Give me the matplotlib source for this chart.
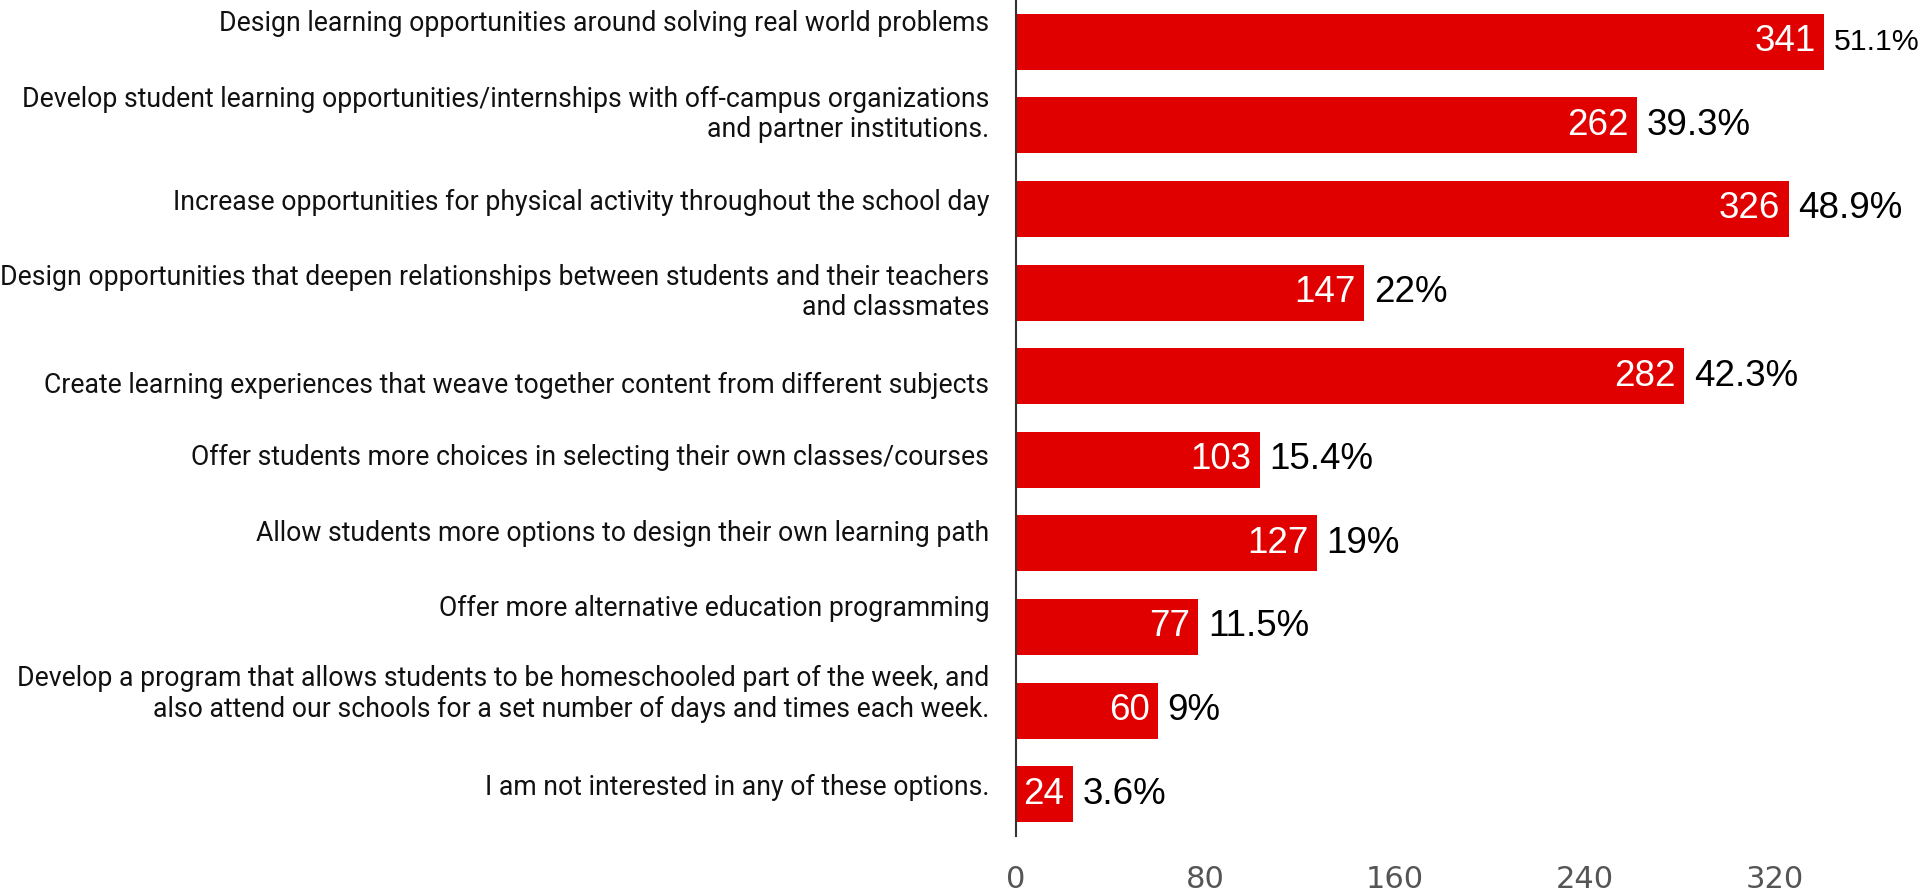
import matplotlib
matplotlib.use("Agg")
import matplotlib.pyplot as plt

# survey options (top to bottom) and responses
options = [
    "Design learning opportunities around solving real world problems",
    "Develop student learning opportunities/internships with off-campus organizations\nand partner institutions.",
    "Increase opportunities for physical activity throughout the school day",
    "Design opportunities that deepen relationships between students and their teachers\nand classmates",
    "Create learning experiences that weave together content from different subjects",
    "Offer students more choices in selecting their own classes/courses",
    "Allow students more options to design their own learning path",
    "Offer more alternative education programming",
    "Develop a program that allows students to be homeschooled part of the week, and\nalso attend our schools for a set number of days and times each week.",
    "I am not interested in any of these options.",
]
counts = [341, 262, 326, 147, 282, 103, 127, 77, 60, 24]
percents = ["51.1%", "39.3%", "48.9%", "22%", "42.3%", "15.4%", "19%", "11.5%", "9%", "3.6%"]
x_ticks = [0, 80, 160, 240, 320]

# the labels in the original don't sit exactly on the bar centres (points, + is up)
label_nudge = [13.5, 8, 5, 0, -6.5, 2, 7, 13.5, 12, 5]

BAR_COLOR = "#e10000"
VALUE_FONT = ["Liberation Sans", "DejaVu Sans"]
LABEL_FONT = ["Roboto", "DejaVu Sans"]
TICK_FONT = ["Liberation Sans Narrow", "DejaVu Sans"]

fig = plt.figure(figsize=(19.2, 8.92), dpi=100)
ax = fig.add_axes([0.529, 0.0628, 0.471, 0.9372])

ypos = list(range(len(options)))
ax.barh(ypos, counts, height=0.67, color=BAR_COLOR, edgecolor="none")

ax.set_xlim(0, 381.4)
ax.set_ylim(len(options) - 0.5, -0.5)

# count inside the bar, percentage just after it
pct_texts = []
for y, c, p in zip(ypos, counts, percents):
    ax.annotate(str(c), xy=(c, y), xytext=(-6, 0), textcoords="offset points",
                ha="right", va="center", color="white", fontsize=26.5,
                family=VALUE_FONT)
    t = ax.annotate(p, xy=(c, y), xytext=(7, 0), textcoords="offset points",
                    ha="left", va="center", color="black", fontsize=26.5,
                    family=VALUE_FONT, annotation_clip=False)
    pct_texts.append(t)

# category labels, right aligned left of the axis
for y, text, dy in zip(ypos, options, label_nudge):
    ax.annotate(text, xy=(0, y), xycoords=("axes fraction", "data"),
                xytext=(-19, dy), textcoords="offset points",
                ha="right", va="center", multialignment="right",
                fontsize=19.2, family=LABEL_FONT, color="#111111",
                linespacing=1.17, annotation_clip=False)

ax.set_yticks(ypos)
ax.set_yticklabels([])

ax.set_xticks(x_ticks)
ax.set_xticklabels([str(t) for t in x_ticks], fontsize=22, family=TICK_FONT,
                   color="#555555")

ax.tick_params(axis="y", length=0)
ax.tick_params(axis="x", length=0, pad=21)

for side in ["top", "right", "bottom"]:
    ax.spines[side].set_visible(False)
ax.spines["left"].set_color("#333333")
ax.spines["left"].set_linewidth(1.5)

# shrink any percentage that would run past the right edge
fig.canvas.draw()
renderer = fig.canvas.get_renderer()
fig_w = fig.bbox.width
for t in pct_texts:
    while t.get_window_extent(renderer).x1 > fig_w and t.get_fontsize() > 12:
        t.set_fontsize(t.get_fontsize() - 0.25)

fig.savefig("out.png", dpi=100)
